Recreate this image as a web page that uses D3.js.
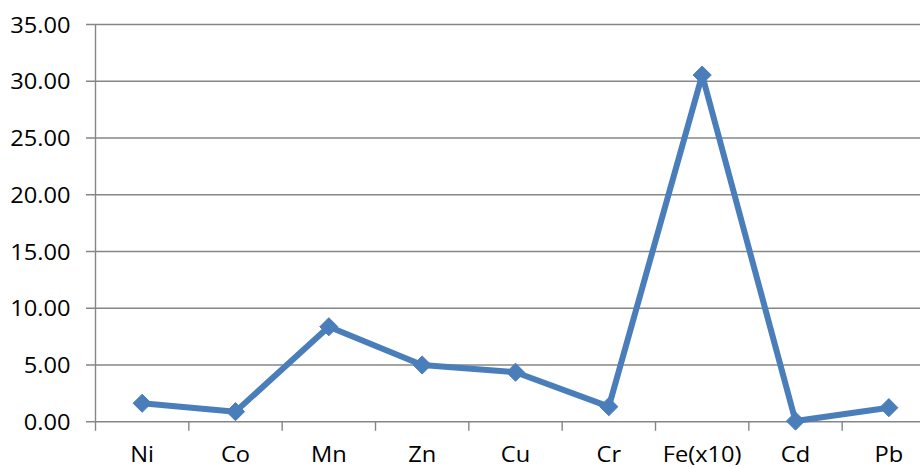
<!DOCTYPE html>
<html>
<head>
<meta charset="utf-8">
<script src="https://cdn.jsdelivr.net/npm/d3@7"></script>
<style>
  html, body { margin: 0; padding: 0; background: #fff; }
  svg { display: block; }
  text { font-family: "Open Sans", "Liberation Sans", sans-serif; fill: #000; }
</style>
</head>
<body>
<svg id="chart" width="920" height="468"></svg>
<script>
// Metal concentrations (Fe shown scaled by 10)
const categories = ["Ni", "Co", "Mn", "Zn", "Cu", "Cr", "Fe(x10)", "Cd", "Pb"];
const values = [1.59, 0.85, 8.33, 4.96, 4.32, 1.29, 30.5, 0.02, 1.20];
const yTicks = [0, 5, 10, 15, 20, 25, 30, 35];

const svg = d3.select("#chart");
const plotLeft = 95.5, plotRight = 935.5, plotTop = 24, plotBottom = 421.3;
const stretch = 1.1;    // widen glyphs horizontally
const fontSize = "21.5px";
const lineColor = "#4a7ebb";
const gridColor = "#868686";

const x = d3.scaleBand().domain(categories).range([plotLeft, plotRight]);
const y = d3.scaleLinear().domain([0, 35]).range([plotBottom, plotTop]);

// horizontal gridlines with short outward ticks
const yAxis = d3.axisLeft(y)
  .tickValues(yTicks)
  .tickSize(-(plotRight - plotLeft))
  .tickSizeOuter(0)
  .tickFormat(d3.format(".2f"));

const gy = svg.append("g").attr("transform", `translate(${plotLeft},0)`).call(yAxis);
gy.select(".domain").remove();
gy.selectAll(".tick line")
  .attr("x1", -9.5)
  .attr("stroke", gridColor)
  .attr("stroke-width", 1.4);
gy.selectAll(".tick text")
  .attr("x", null)
  .attr("dy", null)
  .attr("dominant-baseline", "central")
  .attr("text-anchor", "end")
  .attr("transform", `translate(-25,0) scale(${stretch},1)`)
  .style("font-size", fontSize);

// vertical axis line
svg.append("line")
  .attr("x1", plotLeft).attr("x2", plotLeft)
  .attr("y1", plotTop).attr("y2", plotBottom + 9.5)
  .attr("stroke", gridColor).attr("stroke-width", 1.4);

// category axis: ticks at band boundaries
const boundaries = categories.slice(1).map(c => x(c)).concat([x(categories[categories.length - 1]) + x.bandwidth()]);
svg.append("g").selectAll("line").data(boundaries).join("line")
  .attr("x1", d => d).attr("x2", d => d)
  .attr("y1", plotBottom).attr("y2", plotBottom + 9.5)
  .attr("stroke", gridColor).attr("stroke-width", 1.4);

svg.append("g").selectAll("text").data(categories).join("text")
  .attr("transform", d => `translate(${x(d) + x.bandwidth() / 2},462) scale(${stretch},1)`)
  .attr("text-anchor", "middle")
  .style("font-size", fontSize)
  .text(d => d);

// series line
const cx = (d, i) => x(categories[i]) + x.bandwidth() / 2;
const line = d3.line().x(cx).y(d => y(d));
svg.append("path")
  .datum(values)
  .attr("d", line)
  .attr("fill", "none")
  .attr("stroke", lineColor)
  .attr("stroke-width", 6)
  .attr("stroke-linejoin", "round");

// diamond markers
const diamond = d3.symbol().type(d3.symbolDiamond2).size(210);
svg.append("g").selectAll("path").data(values).join("path")
  .attr("transform", (d, i) => `translate(${cx(d, i)},${y(d)})`)
  .attr("d", diamond)
  .attr("fill", lineColor)
  .attr("stroke", lineColor)
  .attr("stroke-width", 1);
</script>
</body>
</html>
